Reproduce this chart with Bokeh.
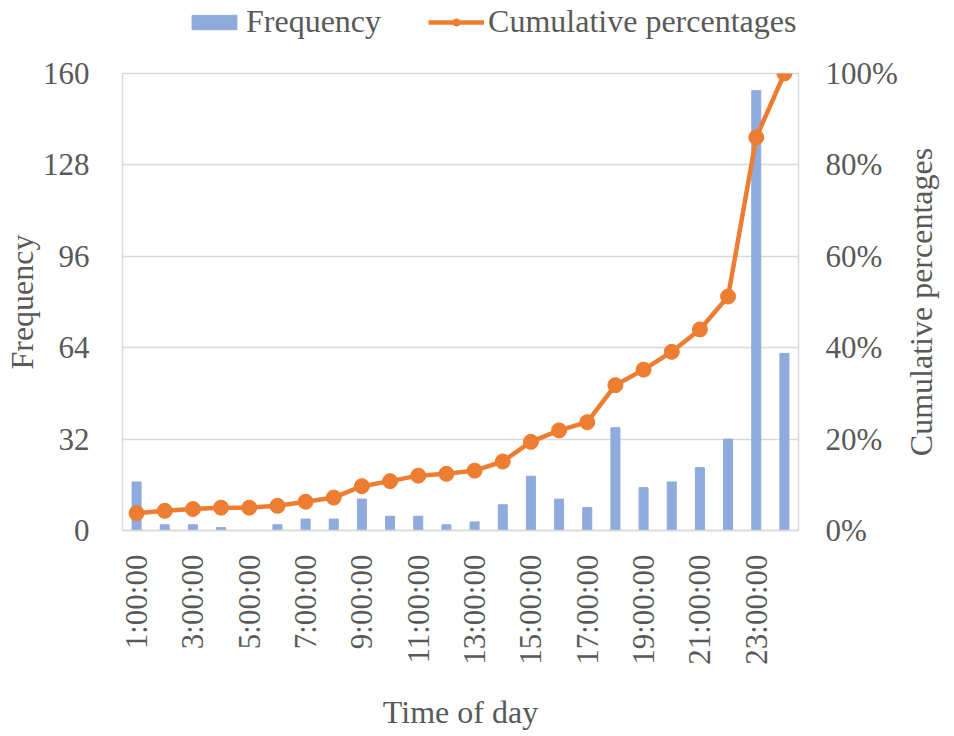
from math import pi
from bokeh.plotting import figure
from bokeh.models import Range1d, LinearAxis, FixedTicker, Legend, LegendItem, CustomJSTickFormatter, ColumnDataSource
from bokeh.layouts import column, row
from bokeh.embed import file_html
from bokeh.resources import INLINE

categories = ["1:00:00", "2:00:00", "3:00:00", "4:00:00", "5:00:00", "6:00:00",
              "7:00:00", "8:00:00", "9:00:00", "10:00:00", "11:00:00", "12:00:00",
              "13:00:00", "14:00:00", "15:00:00", "16:00:00", "17:00:00", "18:00:00",
              "19:00:00", "20:00:00", "21:00:00", "22:00:00", "23:00:00", "0:00:00"]
frequency = [17, 2, 2, 1, 0, 2, 4, 4, 11, 5, 5, 2, 3, 9, 19, 11, 8, 36, 15, 17, 22, 32, 154, 62]
cumulative_pct = [3.8, 4.3, 4.7, 5.0, 5.0, 5.4, 6.3, 7.2, 9.7, 10.8, 12.0, 12.4,
                  13.1, 15.1, 19.4, 21.9, 23.7, 31.8, 35.2, 39.1, 44.0, 51.2, 86.0, 100.0]
freq_ticks = [0, 32, 64, 96, 128, 160]
pct_ticks = [0, 20, 40, 60, 80, 100]

FONT = "Liberation Serif"
TXT = "#595959"
FS = "32px"
TFS = "31px"
BAR = "#8FAADC"
ORANGE = "#ED7D31"

xs = list(range(1, len(categories) + 1))
shown = xs[::2]

# ---- legend strip on top (its glyphs only serve as legend swatches, outside the visible range) ----
lg = figure(width=938, height=40, output_backend="svg", toolbar_location=None,
            x_range=Range1d(0, 1), y_range=Range1d(0, 1),
            min_border_left=114, min_border_right=140, min_border_top=0, min_border_bottom=0,
            outline_line_color=None)
lg.axis.visible = False
lg.grid.visible = False
swatch = ColumnDataSource(data=dict(x=[-10], y=[-10], top=[-10]))
lb = lg.vbar(x="x", top="top", width=0.3, color=BAR, source=swatch)
ll = lg.line(x="x", y="y", line_color=ORANGE, line_width=4.5, source=swatch)
lp = lg.scatter(x="x", y="y", size=14, color=ORANGE, source=swatch)
legend = Legend(items=[LegendItem(label="Frequency", renderers=[lb]),
                       LegendItem(label="Cumulative percentages", renderers=[ll, lp])],
                orientation="horizontal", location=(72, 0),
                label_text_font=FONT, label_text_font_size=FS, label_text_color=TXT,
                glyph_width=56, glyph_height=18, label_standoff=4, spacing=47,
                border_line_color=None, background_fill_alpha=0, padding=0, margin=0)
lg.add_layout(legend, "center")

# ---- main chart ----
H = 693
TOP = 33
BOTTOM = 203
p = figure(width=903, height=H, output_backend="svg", toolbar_location=None,
           x_range=Range1d(0.5, len(categories) + 0.5), y_range=Range1d(0, 160),
           min_border_left=114, min_border_right=105, min_border_bottom=BOTTOM, min_border_top=TOP)
p.extra_y_ranges = {"pct": Range1d(0, 100)}

p.outline_line_color = "#d9d9d9"
p.outline_line_width = 1.5

bars = p.vbar(x=xs, top=frequency, width=0.32, color=BAR)
line = p.line(x=xs, y=cumulative_pct, y_range_name="pct", line_color=ORANGE, line_width=4.5)
pts = p.scatter(x=xs, y=cumulative_pct, y_range_name="pct", size=15, color=ORANGE)

p.xgrid.grid_line_color = None
p.ygrid.grid_line_color = "#d9d9d9"
p.ygrid.grid_line_width = 1.5
p.yaxis.ticker = FixedTicker(ticks=freq_ticks)
p.yaxis.axis_label = "Frequency"
p.yaxis.axis_line_color = None

right = LinearAxis(y_range_name="pct", ticker=FixedTicker(ticks=pct_ticks))
right.formatter = CustomJSTickFormatter(code="return tick.toFixed(0) + '%';")
right.axis_line_color = None
p.add_layout(right, "right")

p.xaxis.ticker = FixedTicker(ticks=shown)
p.xaxis.major_label_overrides = {x: categories[x - 1] for x in shown}
p.xaxis.major_label_orientation = pi / 2
p.xaxis.axis_label = "Time of day"
p.xaxis.axis_line_color = "#d9d9d9"
p.xaxis.axis_line_width = 1.5

# ---- narrow strip holding the right-hand axis title (reads bottom to top) ----
side = figure(width=35, height=H, output_backend="svg", toolbar_location=None,
              y_range=Range1d(0, 100), x_range=Range1d(0, 1),
              min_border_left=34, min_border_right=0, min_border_top=TOP, min_border_bottom=BOTTOM,
              outline_line_color=None)
side.xaxis.visible = False
side.grid.visible = False
side.yaxis.ticker = FixedTicker(ticks=[])
side.yaxis.axis_line_color = None
side.yaxis.axis_label = "Cumulative percentages"
side.yaxis.axis_label_standoff = 0

for ax in [p.xaxis[0], p.yaxis[0], right, side.yaxis[0]]:
    ax.major_tick_line_color = None
    ax.minor_tick_line_color = None
    ax.major_label_text_font = FONT
    ax.major_label_text_font_size = TFS
    ax.major_label_text_color = TXT
    ax.axis_label_text_font = FONT
    ax.axis_label_text_font_size = FS
    ax.axis_label_text_color = TXT
    ax.axis_label_text_font_style = "normal"

p.yaxis[0].major_label_standoff = 27
right.major_label_standoff = 21
p.xaxis.major_label_standoff = 18
p.xaxis.axis_label_standoff = 26
p.yaxis[0].axis_label_standoff = 0

open("out.html", "w").write(file_html(column(lg, row(p, side, spacing=0), spacing=0), INLINE))
